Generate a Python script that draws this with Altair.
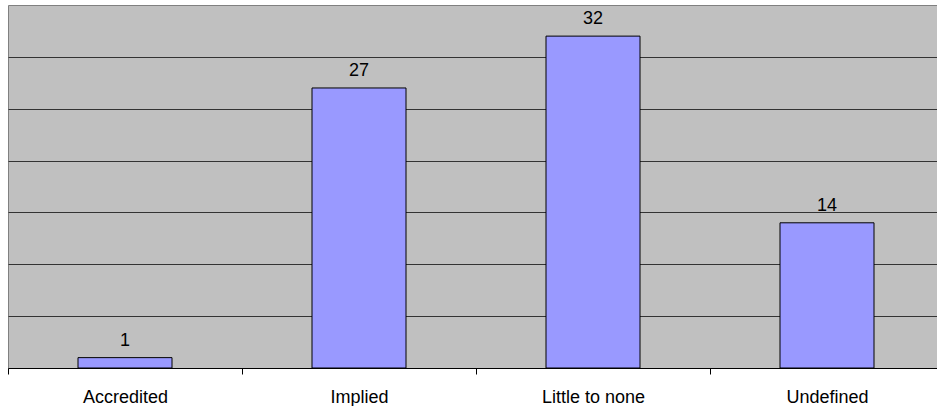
import altair as alt
import pandas as pd

categories = ["Accredited", "Implied", "Little to none", "Undefined"]
counts = [1, 27, 32, 14]

df = pd.DataFrame({"category": categories, "count": counts})

FONT = "Liberation Sans"

x = alt.X(
    "category:N",
    sort=categories,
    title=None,
    scale=alt.Scale(range=[0, 936], paddingInner=0, paddingOuter=0),
    axis=alt.Axis(
        labelAngle=0,
        labelFont=FONT,
        labelFontSize=18,
        labelColor="#000000",
        labelBaseline="alphabetic",
        labelPadding=28,
        tickBand="extent",
        tickColor="#000000",
        tickSize=6,
        domainColor="#000000",
        domainWidth=1,
        grid=False,
    ),
)

y = alt.Y(
    "count:Q",
    title=None,
    scale=alt.Scale(domain=[0, 35], nice=False),
    axis=alt.Axis(
        values=[5, 10, 15, 20, 25, 30],
        labels=False,
        ticks=False,
        domain=False,
        grid=True,
        gridColor="#333333",
        gridWidth=1.2,
    ),
)

bars = alt.Chart(df).mark_bar(
    width=94, color="#9999ff", stroke="#000000", strokeWidth=1
).encode(x=x, y=y)

labels = alt.Chart(df).mark_text(
    font=FONT, fontSize=18, color="#000000", baseline="alphabetic", dy=-12
).encode(x=alt.X("category:N", sort=categories), y="count:Q", text="count:Q")

chart = (
    alt.layer(bars, labels)
    .properties(
        width=929,
        height=363,
        autosize=alt.AutoSizeParams(type="none"),
        padding={"left": 8, "top": 5, "right": 0, "bottom": 38},
        background="#ffffff",
    )
    .configure_view(fill="#c0c0c0", stroke="#808080", strokeWidth=1)
)

chart.save("out.html", embed_options={"renderer": "svg", "actions": False})
